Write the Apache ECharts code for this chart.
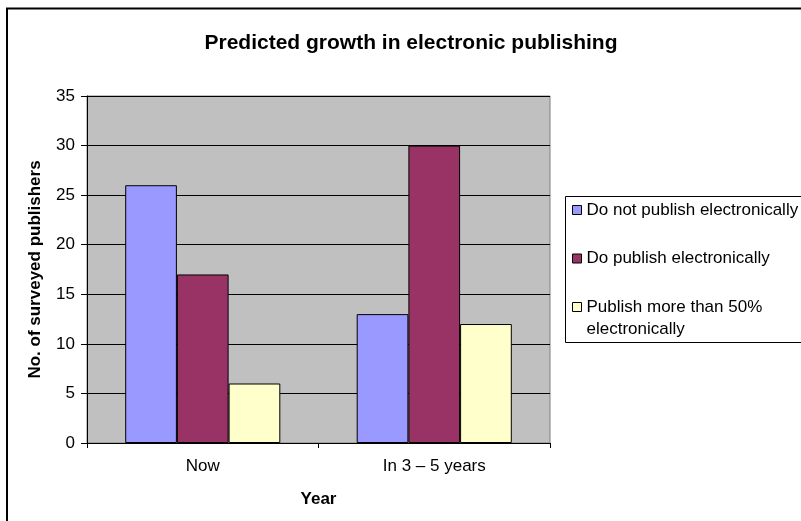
<!DOCTYPE html>
<html>
<head>
<meta charset="utf-8">
<script src="https://cdn.jsdelivr.net/npm/echarts@6/dist/echarts.min.js"></script>
<style>
  html, body { margin: 0; padding: 0; background: #fff; }
  #chart { width: 801px; height: 521px; }
</style>
</head>
<body>
<div id="chart"></div>
<script>
// Survey of publishers: current vs. expected electronic publishing
const categories = ['Now', 'In 3 \u2013 5 years'];
const seriesNames = [
  'Do not publish electronically',
  'Do publish electronically',
  'Publish more than 50%\nelectronically'
];
const notElectronic = [26, 13];
const electronic = [17, 30];
const mostlyElectronic = [6, 12];
const yTicks = { min: 0, max: 35, step: 5 };
const barColors = ['#9999FF', '#993366', '#FFFFCC'];

const font = 'Arial, "Liberation Sans", sans-serif';
const values = [notElectronic, electronic, mostlyElectronic];

// One legend block per entry so each key square sits on the first text line.
const legendTops = [199, 247.5, 274];
const legends = seriesNames.map((name, i) => ({
  orient: 'vertical',
  left: 572,
  top: legendTops[i],
  padding: 0,
  itemWidth: 9,
  itemHeight: 9,
  z: 5,
  icon: 'rect',
  itemStyle: { borderColor: '#000', borderWidth: 1 },
  // a leading blank line lifts the key square to the first line of a wrapped entry
  formatter: n => (n.indexOf('\n') >= 0 ? ' \n' + n : n),
  textStyle: { fontFamily: font, fontSize: 17, color: '#000', lineHeight: 22 },
  data: [name]
}));

const chart = echarts.init(document.getElementById('chart'), null, { renderer: 'canvas' });

chart.setOption({
  animation: false,
  backgroundColor: '#ffffff',
  textStyle: { fontFamily: font, color: '#000' },
  title: {
    text: 'Predicted growth in electronic publishing',
    left: 406,
    textAlign: 'center',
    top: 28,
    textStyle: { fontFamily: font, fontSize: 21, fontWeight: 'bold', color: '#000' }
  },
  graphic: [
    {
      // chart frame
      type: 'rect',
      z: -1,
      shape: { x: 7, y: 8.5, width: 820, height: 540 },
      style: { fill: 'none', stroke: '#000', lineWidth: 2 }
    },
    {
      // legend frame
      type: 'rect',
      z: 0,
      shape: { x: 565.5, y: 196.5, width: 300, height: 146 },
      style: { fill: '#fff', stroke: '#000', lineWidth: 1 }
    }
  ],
  legend: legends,
  grid: {
    left: 87,
    top: 96,
    right: 251,
    bottom: 78,
    show: true,
    backgroundColor: '#C0C0C0',
    borderColor: '#808080',
    borderWidth: 1
  },
  xAxis: {
    type: 'category',
    data: categories,
    name: 'Year',
    nameLocation: 'middle',
    nameGap: 48,
    nameTextStyle: { fontFamily: font, fontSize: 17, fontWeight: 'bold', color: '#000' },
    axisLine: { lineStyle: { color: '#000', width: 1 } },
    axisTick: { show: true, length: 5, lineStyle: { color: '#000' } },
    axisLabel: { fontFamily: font, fontSize: 17, color: '#000', margin: 15 },
    splitLine: { show: false }
  },
  yAxis: {
    type: 'value',
    min: yTicks.min,
    max: yTicks.max,
    interval: yTicks.step,
    name: 'No. of surveyed publishers',
    nameLocation: 'middle',
    nameGap: 43,
    nameTextStyle: { fontFamily: font, fontSize: 17, fontWeight: 'bold', color: '#000' },
    axisLine: { show: true, lineStyle: { color: '#000', width: 1 } },
    axisTick: { show: true, length: 6, lineStyle: { color: '#000' } },
    axisLabel: { fontFamily: font, fontSize: 17, color: '#000', margin: 12 },
    splitLine: { show: true, lineStyle: { color: '#000', width: 1 } }
  },
  series: values.map((vals, i) => ({
    name: seriesNames[i],
    type: 'bar',
    data: vals,
    barGap: '0%',
    barCategoryGap: '33%',
    itemStyle: { color: barColors[i], borderColor: '#000', borderWidth: 1 }
  }))
});
</script>
</body>
</html>
